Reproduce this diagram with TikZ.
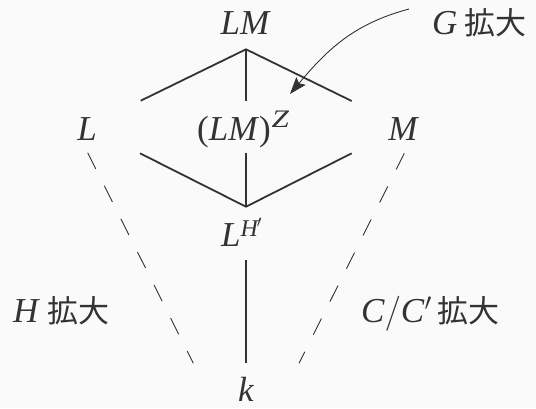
\RequirePackage{fix-cm}
\documentclass[tikz,border=0pt]{standalone}
\usepackage{fontspec}
\setmainfont{Liberation Serif}
\newfontfamily\cjk{Noto Sans CJK JP}
\usetikzlibrary{arrows.meta}
\definecolor{ink}{RGB}{51,51,51}
\definecolor{bgc}{RGB}{250,250,250}
\newcommand\supZ[2]{\raisebox{#2}{\fontsize{24}{28}\selectfont\itshape #1}}
\newcommand\kakudai{{\cjk\fontsize{31}{38}\selectfont 拡大}}
\begin{document}
\begin{tikzpicture}[x=1pt,y=-1pt,
  font=\fontsize{35}{42}\selectfont,
  every node/.style={text=ink, inner sep=0pt},
  edgeline/.style={draw=ink, line width=1.8pt},
  dashline/.style={draw=ink, line width=0.9pt, dash pattern=on 18pt off 19pt},
  arrowline/.style={draw=ink, line width=0.9pt, -{Stealth[length=17pt,width=12pt,inset=3pt]}}]
\fill[bgc] (0,0) rectangle (536,408);
\useasboundingbox (0,0) rectangle (536,408);
% nodes
\node[anchor=base] (LM) at (245,34) {\itshape LM};
\node[anchor=base] (L) at (87,140) {\itshape L};
\node[anchor=base west] (LMZ) at (197,140) {(\textit{LM})\kern1pt\supZ{\scalebox{1.3}[1.05]{Z}}{13pt}};
\node[anchor=base] (M) at (403,140) {\itshape M};
\node[anchor=base west] (LH) at (221,246.7) {\textit{L}\supZ{\textit{H}\kern-1pt$'$}{10pt}};
\node[anchor=base] (k) at (246,401) {\itshape k};
\node[anchor=base west] (Hext) at (13,322.7) {\textit{H}\kern7pt\kakudai};
\node[anchor=base west] (Cext) at (361,322.7) {\textit{C}$/$\textit{C}$'$\kern6pt\kakudai};
\node[anchor=base west] (Gext) at (432,34) {\textit{G}\kern7pt\kakudai};
% connector end points
\coordinate (a1) at (246,49.3);
\coordinate (a2) at (140.7,100.7);
\coordinate (a3) at (246,100.5);
\coordinate (a4) at (351.7,101);
\coordinate (b1) at (140,153.3);
\coordinate (b2) at (246,152.7);
\coordinate (b3) at (351.7,153.3);
\coordinate (b4) at (246,206.7);
\coordinate (c1) at (246,260);
\coordinate (c2) at (246,363.3);
\coordinate (d1) at (87.7,152.7);
\coordinate (d2) at (193.3,363.3);
\coordinate (e1) at (404.3,153.3);
\coordinate (e2) at (299,363.3);
\coordinate (g1) at (409,9);
\coordinate (g2) at (290,94);
% connectors
\draw[edgeline] (a2) -- (a1) -- (a4);
\draw[edgeline] (a1) -- (a3);
\draw[edgeline] (b1) -- (b4) -- (b3);
\draw[edgeline] (b2) -- (b4);
\draw[edgeline] (c1) -- (c2);
\draw[dashline] (d1) -- (d2);
\draw[dashline] (e1) -- (e2);
\draw[arrowline] (g1) .. controls (353,24) and (327,50) .. (g2);
\end{tikzpicture}
\end{document}
